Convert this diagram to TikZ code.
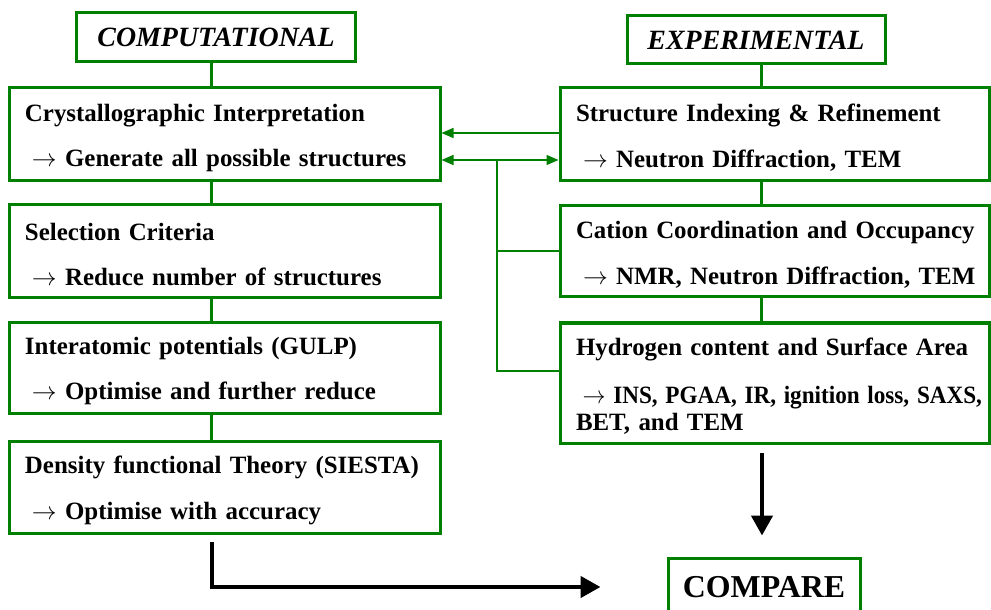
\documentclass[tikz,border=0pt]{standalone}
\usepackage{fontspec}
\setmainfont{Liberation Serif}
\usepackage{xcolor}
\usepackage{graphicx}
\usetikzlibrary{arrows.meta}
\definecolor{boxgreen}{RGB}{0,128,0}
\newcommand{\yields}{\hspace*{7bp}$\rightarrow$ }
\tikzset{
  stage/.style={draw=boxgreen, line width=3bp, fill=white, text width=400bp, inner xsep=15bp, inner ysep=0pt, align=left, font=\fontsize{25}{27}\selectfont\bfseries, execute at end node={\par\vspace{-7bp}}},
  probe/.style={stage, text width=397bp, inner xsep=16bp},
  head/.style={draw=boxgreen, line width=3bp, fill=white, inner sep=0pt, font=\fontsize{28}{30}\selectfont\bfseries\itshape},
  spine/.style={boxgreen, line width=3bp},
  feed/.style={boxgreen, line width=1.4bp},
  bigarrow/.style={line width=4.5bp, -{Triangle[length=20bp,width=21bp]}}
}

\begin{document}
\begin{tikzpicture}[x=1bp,y=-1bp]
                \useasboundingbox (0,0) rectangle (991,610);
                \clip (0,0) rectangle (991,610);
                \node[head, minimum width=278bp, minimum height=49bp] (comp) at (216,37.5) {COMPUTATIONAL};
                \node[head, minimum width=258bp, minimum height=48bp] (exp) at (756,40) {EXPERIMENTAL};
                \node[stage, minimum height=93bp] (cryst) at (225,134.5) {Crystallographic Interpretation\\[19bp]\yields Generate all possible structures};
                \node[stage, minimum height=92bp] (select) at (225,251) {Selection Criteria\\[19bp]\yields Reduce number of structures};
                \node[stage, minimum height=91bp] (gulp) at (225,367.5) {Interatomic potentials (GULP)\\[19bp]\yields Optimise and further reduce};
                \node[stage, minimum height=92bp] (dft) at (225,487) {Density functional Theory (SIESTA)\\[19bp]\yields Optimise with accuracy};
                \node[probe, minimum height=93bp] (struct) at (774.5,134.5) {Structure Indexing \& Refinement\\[19bp]\yields Neutron Diffraction, TEM};
                \node[probe, minimum height=90bp] (cation) at (774.5,251) {\mbox{Cation Coordination and Occupancy}\\[19bp]\mbox{\yields NMR, Neutron Diffraction, TEM}};
                \node[probe, minimum height=120bp] (hydro) at (774.5,383) {Hydrogen content and Surface Area\\[21bp]\scalebox{0.93}[1]{\yields INS, PGAA, IR, ignition loss, SAXS,}\\BET, and TEM};
                \node[draw=boxgreen, line width=3bp, fill=white, inner sep=0pt, minimum width=192bp, minimum height=58bp, font=\fontsize{32}{34}\selectfont\bfseries] (cmp) at (764,587) {COMPARE};
                \coordinate (lspine) at (211,0);
                \coordinate (rspine) at (761,0);
                \draw[spine] (comp.south -| lspine) -- (cryst.north -| lspine);
                \draw[spine] (cryst.south -| lspine) -- (select.north -| lspine);
                \draw[spine] (select.south -| lspine) -- (gulp.north -| lspine);
                \draw[spine] (gulp.south -| lspine) -- (dft.north -| lspine);
                \draw[spine] (exp.south -| rspine) -- (struct.north -| rspine);
                \draw[spine] (struct.south -| rspine) -- (cation.north -| rspine);
                \draw[spine] (cation.south -| rspine) -- (hydro.north -| rspine);
                \coordinate (upfeed) at (0,133);
                \coordinate (dnfeed) at (0,160);
                \coordinate (fork) at (497,160);
                \coordinate (hyfeed) at (497,371);
                \draw[feed, -{Triangle[length=12bp,width=10bp]}] (struct.west |- upfeed) -- (cryst.east |- upfeed);
                \draw[feed, {Triangle[length=12bp,width=10bp]}-{Triangle[length=12bp,width=10bp]}] (cryst.east |- dnfeed) -- (struct.west |- dnfeed);
                \draw[feed] (fork) -- (hyfeed) -- (hyfeed -| hydro.west);
                \draw[feed] (fork |- cation.west) -- (cation.west);
                \coordinate (dfttail) at (212,542);
                \coordinate (hytail) at (762,453);
                \draw[bigarrow, shorten >=66bp] (dfttail) |- (cmp.west);
                \draw[bigarrow, shorten >=21bp] (hytail) -- (cmp.north -| hytail);
            \end{tikzpicture}
\end{document}
